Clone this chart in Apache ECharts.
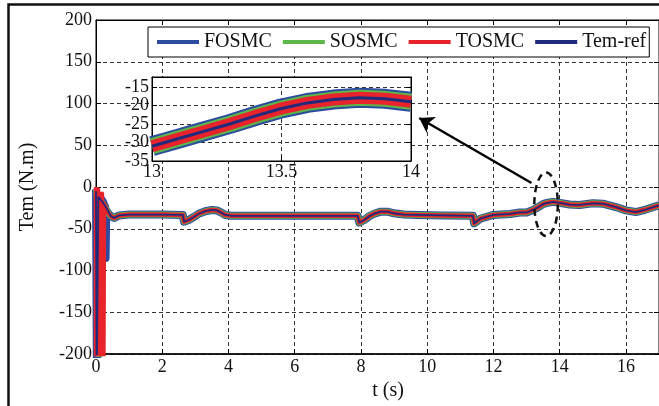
<!DOCTYPE html>
<html>
<head>
<meta charset="utf-8">
<script src="https://cdn.jsdelivr.net/npm/echarts@6/dist/echarts.min.js"></script>
<style>
  html, body { margin: 0; padding: 0; background: #fff; }
  #chart { width: 659px; height: 406px; }
</style>
</head>
<body>
<div id="chart"></div>
<script>
// Electromagnetic torque response, t (s) vs Tem (N.m)
const seriesNames = ['FOSMC', 'SOSMC', 'TOSMC', 'Tem-ref'];
const seriesColors = ['#2e4c9f', '#5cb748', '#e8232b', '#1f2a7c'];

// start-up transient of each signal, [t, Tem]
const fosmcStart = [[0, -3], [0.03, -250], [0.05, -250], [0.07, -10], [0.2, -17], [0.28, -24], [0.29, -85], [0.31, -28], [0.38, -32]];
const sosmcStart = [[0, -3], [0.1, -60], [0.1, -250], [0.11, -250], [0.11, -15], [0.25, -22], [0.38, -32]];
const tosmcStart = [[0, 0], [0, -250], [0.06, -250], [0.06, -3], [0.12, -3], [0.12, -250], [0.18, -250], [0.18, -8], [0.22, -10], [0.22, -250], [0.24, -250], [0.24, -20], [0.35, -30]];
const refStart = [[0, -5], [0.02, -250], [0.05, -250], [0.07, -12], [0.2, -18], [0.33, -26]];

// common trajectory after the transient
const time = [0.45, 0.55, 0.7, 1.0, 1.5, 2.0, 2.62, 2.66, 2.8, 2.95, 3.1, 3.3, 3.5, 3.65, 3.8, 3.9, 4.1, 5.0, 6.0, 7.0,
  7.9, 7.95, 8.1, 8.25, 8.4, 8.6, 8.8, 9.0, 9.3, 9.7, 10.5, 11.38, 11.42, 11.6, 12.0, 12.5, 12.8, 13.0, 13.2, 13.4,
  13.5, 13.6, 13.8, 14.0, 14.3, 14.6, 15.0, 15.3, 15.7, 16.0, 16.3, 16.6, 17.0];
const torque = [-35, -37, -34, -33, -33, -33, -33.5, -41.5, -39.5, -36, -32, -29, -27.5, -28, -31, -33.5, -34.5, -34.5, -34.5, -34.5,
  -34.5, -42.5, -39.5, -35, -32, -29.5, -29.5, -31.5, -33, -33.5, -34, -34.5, -43.5, -38, -33.5, -32.3, -30.5, -30.5, -27.5, -23,
  -20.5, -19.2, -17.8, -19, -21, -21.5, -19.5, -20, -24, -28, -30, -27, -22];

// zoomed window 13 s .. 14 s
const zoomTime = [13.0, 13.1, 13.2, 13.3, 13.4, 13.5, 13.6, 13.7, 13.8, 13.9, 14.0];
const zoomTorque = [-31, -29, -27, -25, -22.8, -20.8, -19.3, -18.4, -17.9, -18.2, -19];

// axis ticks
const mainXTicks = { min: 0, max: 17, interval: 2 };
const mainYTicks = { min: -200, max: 200, interval: 50 };
const zoomXTicks = { min: 13, max: 14, interval: 0.5 };
const zoomYTicks = { min: -35, max: -12.3, interval: 5 };

// annotation: dashed ellipse and arrow in data units
const ellipseCenter = [13.59, -20.7];
const ellipseRadius = [0.355, 38];
const arrowFrom = [13.15, 4.8];
const arrowTo = [9.76, 82.6];

const FONT = 'Liberation Serif';
const pairs = (ts, vs) => ts.map((t, i) => [t, vs[i]]);
const steady = pairs(time, torque);
const zoomed = pairs(zoomTime, zoomTorque);

const gridDash = { color: '#333', type: [4, 3], width: 1 };
const tickStyle = { color: '#000', width: 1 };

function xAxisCfg(grid, ticks, extra) {
  return Object.assign({
    type: 'value', gridIndex: grid, min: ticks.min, max: ticks.max, interval: ticks.interval,
    axisLine: { show: true, onZero: false, lineStyle: { color: '#000', width: 1 } },
    axisTick: { show: true, inside: true, length: 5, lineStyle: tickStyle },
    axisLabel: { color: '#111', fontSize: 18, fontFamily: FONT, margin: 4, showMaxLabel: false },
    splitLine: { show: true, lineStyle: gridDash }
  }, extra || {});
}
function yAxisCfg(grid, ticks, extra) {
  return Object.assign({
    type: 'value', gridIndex: grid, min: ticks.min, max: ticks.max, interval: ticks.interval,
    axisLine: { show: true, onZero: false, lineStyle: { color: '#000', width: 1 } },
    axisTick: { show: true, inside: true, length: 5, lineStyle: tickStyle },
    axisLabel: { color: '#111', fontSize: 18, fontFamily: FONT, margin: 4 },
    splitLine: { show: true, lineStyle: gridDash }
  }, extra || {});
}
const mirror = { axisLabel: { show: false }, splitLine: { show: false } };

const mainWidths = [8, 6, 4.5, 1.8];
const zoomWidths = [20, 16, 12, 3];
const starts = [fosmcStart, sosmcStart, tosmcStart, refStart];

const series = [];
seriesNames.forEach((name, i) => {
  const s = {
    name, type: 'line', xAxisIndex: 0, yAxisIndex: 0,
    data: starts[i].concat(steady),
    showSymbol: false, symbol: 'none',
    lineStyle: { color: seriesColors[i], width: mainWidths[i], join: 'round' },
    itemStyle: { color: seriesColors[i] },
    z: 2 + i * 0.1, animation: false
  };
  if (name === 'Tem-ref') {
    s.markLine = {
      silent: true, animation: false,
      symbol: ['none', 'arrow'], symbolSize: 14,
      lineStyle: { color: '#000', width: 2.5, type: 'solid' },
      label: { show: false },
      data: [[{ coord: arrowFrom }, { coord: arrowTo }]]
    };
  }
  series.push(s);
});
seriesNames.forEach((name, i) => {
  series.push({
    name, type: 'line', xAxisIndex: 2, yAxisIndex: 2,
    data: zoomed, clip: false,
    showSymbol: false, symbol: 'none',
    lineStyle: { color: seriesColors[i], width: zoomWidths[i], join: 'round' },
    itemStyle: { color: seriesColors[i] },
    z: 7 + i * 0.1, animation: false
  });
});

const option = {
  animation: false,
  backgroundColor: '#fff',
  textStyle: { fontFamily: FONT },
  grid: [
    { left: 96, top: 20, right: 0, bottom: 52, show: true, backgroundColor: '#fff', borderColor: '#000', borderWidth: 1 },
    { left: 152, top: 77, right: 248, bottom: 245, show: true, backgroundColor: '#fff', borderColor: '#000', borderWidth: 1, z: 5 }
  ],
  xAxis: [
    xAxisCfg(0, mainXTicks, {
      axisLine: { show: true, onZero: false, lineStyle: { color: '#000', width: 1.6 } },
      name: 't (s)', nameLocation: 'middle', nameGap: 22,
      nameTextStyle: { color: '#111', fontSize: 20, fontFamily: FONT, padding: [0, 0, 0, 21] }
    }),
    xAxisCfg(0, mainXTicks, Object.assign({ position: 'top' }, mirror)),
    xAxisCfg(1, zoomXTicks, { z: 6, axisLabel: { color: '#111', fontSize: 18, fontFamily: FONT, margin: 2 } }),
    xAxisCfg(1, zoomXTicks, Object.assign({ position: 'top', z: 6 }, mirror))
  ],
  yAxis: [
    yAxisCfg(0, mainYTicks, {
      name: 'Tem (N.m)', nameLocation: 'middle', nameGap: 58,
      nameTextStyle: { color: '#111', fontSize: 20, fontFamily: FONT }
    }),
    yAxisCfg(0, mainYTicks, Object.assign({ position: 'right' }, mirror)),
    yAxisCfg(1, zoomYTicks, { z: 6, axisLabel: { color: '#111', fontSize: 18, fontFamily: FONT, margin: 3, showMaxLabel: false } }),
    yAxisCfg(1, zoomYTicks, Object.assign({ position: 'right', z: 6 }, mirror))
  ],
  legend: {
    left: 148, top: 27, orient: 'horizontal',
    data: seriesNames.map(n => ({ name: n, icon: 'rect' })),
    itemWidth: 42, itemHeight: 4, itemGap: 11,
    padding: [4, 3, 4, 9],
    backgroundColor: '#fff', borderColor: '#000', borderWidth: 1,
    textStyle: { color: '#111', fontSize: 20, fontFamily: FONT, lineHeight: 22 },
    selectedMode: false, z: 10
  },
  series
};

const chart = echarts.init(document.getElementById('chart'), null, { renderer: 'canvas' });
chart.setOption(option);

// dashed ellipse marking the zoomed region, and the outer figure frame
const c = chart.convertToPixel({ gridIndex: 0 }, ellipseCenter);
const e = chart.convertToPixel({ gridIndex: 0 }, [ellipseCenter[0] + ellipseRadius[0], ellipseCenter[1] + ellipseRadius[1]]);
chart.setOption({
  graphic: [
    {
      type: 'ellipse', z: 20, silent: true,
      shape: { cx: c[0], cy: c[1], rx: Math.abs(e[0] - c[0]), ry: Math.abs(e[1] - c[1]) },
      style: { fill: 'none', stroke: '#111', lineWidth: 2.5, lineDash: [7, 5] }
    },
    {
      type: 'rect', z: 20, silent: true,
      shape: { x: 8.5, y: 4.5, width: 700, height: 450 },
      style: { fill: 'none', stroke: '#111', lineWidth: 2.5 }
    }
  ]
});
</script>
</body>
</html>
